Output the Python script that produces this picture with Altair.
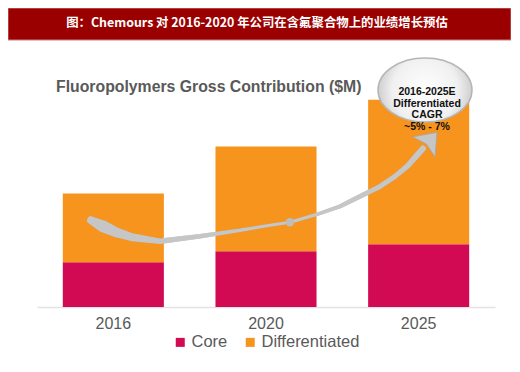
import altair as alt
import pandas as pd

# ---- data ----
years = ["2016", "2020", "2025"]
series = ["Core", "Differentiated"]
core = [45, 56, 63]
differentiated = [69, 105, 145]
colors = ["#D20A54", "#F7941D"]

header = "图：Chemours 对 2016-2020 年公司在含氟聚合物上的业绩增长预估"
subtitle = "Fluoropolymers Gross Contribution ($M)"
bubble_lines = ["2016-2025E", "Differentiated", "CAGR", "~5% - 7%"]

# decorative growth arrow, in data units (band index, value)
arrow_pos = [-0.146, -0.068, 0.017, 0.122, 0.306, 0.568, 0.83, 1.026, 1.157,
             1.334, 1.485, 1.616, 1.747, 1.845, 1.924, 1.982, 2.028]
arrow_val = [87, 81, 75, 70, 66, 71, 77, 82, 85, 93, 101, 111, 121, 131, 141, 151, 159]
arrow_w = [8, 12, 10, 8, 5.5, 4.5, 3.5, 3, 3, 3.5, 4, 4.5, 5, 5, 5.5, 6, 6]

rows = []
for i, y in enumerate(years):
    rows.append({"year": y, "series": "Core", "value": core[i], "o": 0})
    rows.append({"year": y, "series": "Differentiated", "value": differentiated[i], "o": 1})
bars_df = pd.DataFrame(rows)
arrow_df = pd.DataFrame({"pos": arrow_pos, "val": arrow_val, "w": arrow_w,
                         "k": list(range(len(arrow_pos)))})
dot_df = pd.DataFrame({"pos": [1.157], "val": [85]})
head_df = pd.DataFrame({"pos": [2.054], "val": [164]})

FONT = "Liberation Sans"
GREY = "#595959"

ELLIPSE = ("M1,0 C1,0.3756 0.5523,0.68 0,0.68 C-0.5523,0.68 -1,0.3756 -1,0 "
           "C-1,-0.3756 -0.5523,-0.68 0,-0.68 C0.5523,-0.68 1,-0.3756 1,0 Z")

yscale = alt.Scale(domain=[0, 300], nice=False, zero=True)
xlin = alt.Scale(domain=[-0.5, 2.5], nice=False, zero=False)

bars = alt.Chart(bars_df).mark_bar().encode(
    x=alt.X("year:N", title=None,
            scale=alt.Scale(paddingInner=0.338, paddingOuter=0.169),
            axis=alt.Axis(labelFontSize=16, labelColor=GREY, labelFont=FONT,
                          ticks=False, domainColor="#e3e3e3", domainWidth=1.5,
                          labelPadding=8, labelAngle=0)),
    y=alt.Y("value:Q", stack="zero", scale=yscale, axis=None),
    color=alt.Color("series:N",
                    scale=alt.Scale(domain=series, range=colors),
                    legend=alt.Legend(orient="none", legendX=135, legendY=326,
                                      direction="horizontal", title=None,
                                      symbolType="square", symbolSize=81,
                                      symbolStrokeWidth=0, labelFontSize=16.5,
                                      labelColor=GREY, labelFont=FONT,
                                      labelOffset=3, columnPadding=14,
                                      padding=0)),
    order=alt.Order("o:Q"),
)

shadow = alt.Chart(arrow_df).mark_trail(color="#8f8f8f", opacity=0.45, dy=1.5).encode(
    x=alt.X("pos:Q", scale=xlin, axis=None),
    y=alt.Y("val:Q", scale=yscale, axis=None),
    size=alt.Size("w:Q", scale=None, legend=None),
    order="k:Q",
)
trail = alt.Chart(arrow_df).mark_trail(color="#c6c6c6").encode(
    x=alt.X("pos:Q", scale=xlin, axis=None),
    y=alt.Y("val:Q", scale=yscale, axis=None),
    size=alt.Size("w:Q", scale=None, legend=None),
    order="k:Q",
)
dot = alt.Chart(dot_df).mark_point(filled=True, color="#bdbdbd", size=70, opacity=1).encode(
    x=alt.X("pos:Q", scale=xlin, axis=None),
    y=alt.Y("val:Q", scale=yscale, axis=None),
)
head = alt.Chart(head_df).mark_point(
    shape="M0,-1 L1,0.3 L0,0.05 L-1,0.3 Z", size=900, angle=42,
    filled=True, color="#c6c6c6", stroke="#a8a8a8", strokeWidth=0.8, opacity=1,
).encode(
    x=alt.X("pos:Q", scale=xlin, axis=None),
    y=alt.Y("val:Q", scale=yscale, axis=None),
)

bubble = alt.Chart(pd.DataFrame({"a": [0]})).mark_point(
    shape=ELLIPSE, size=8836,
    filled=True, opacity=1,
    fill=alt.RadialGradient(gradient="radial",
                            stops=[alt.GradientStop(color="#ffffff", offset=0),
                                   alt.GradientStop(color="#f0f0f0", offset=0.7),
                                   alt.GradientStop(color="#cfcfcf", offset=1)],
                            x1=0.5, y1=0.5, r1=0, x2=0.5, y2=0.5, r2=0.5),
    stroke="#b5b5b5", strokeWidth=1.5,
).encode(x=alt.value(388), y=alt.value(82))

bubble_text = alt.Chart(pd.DataFrame({"a": [0]})).mark_text(
    text=bubble_lines, font=FONT, fontSize=10.5, fontWeight="bold",
    color="#111111", lineHeight=11.5, align="center", baseline="middle",
).encode(x=alt.value(390), y=alt.value(84))

banner = alt.Chart(pd.DataFrame({"a": [0]})).mark_rect(
    color="#9B0000", stroke="#c98080", strokeWidth=1,
).encode(x=alt.value(-29), x2=alt.value(474), y=alt.value(0), y2=alt.value(32))

header_text = alt.Chart(pd.DataFrame({"a": [0]})).mark_text(
    text=header, font="Noto Sans CJK SC", fontSize=12.4, fontWeight="bold",
    color="#ffffff", align="center", baseline="middle",
).encode(x=alt.value(220), y=alt.value(15))

title_text = alt.Chart(pd.DataFrame({"a": [0]})).mark_text(
    text=subtitle, font=FONT, fontSize=15.8, fontWeight="bold",
    color=GREY, align="left", baseline="middle",
).encode(x=alt.value(19), y=alt.value(79))

chart = alt.layer(
    bars, shadow, trail, dot, head, bubble, bubble_text, banner, header_text, title_text
).resolve_scale(x="independent").properties(
    width=458, height=299,
    autosize="none",
    padding={"left": 29, "top": 0, "right": 16, "bottom": 57},
    background="white",
).configure_view(stroke=None)

chart.save("out.html", embed_options={"renderer": "svg", "actions": False})
